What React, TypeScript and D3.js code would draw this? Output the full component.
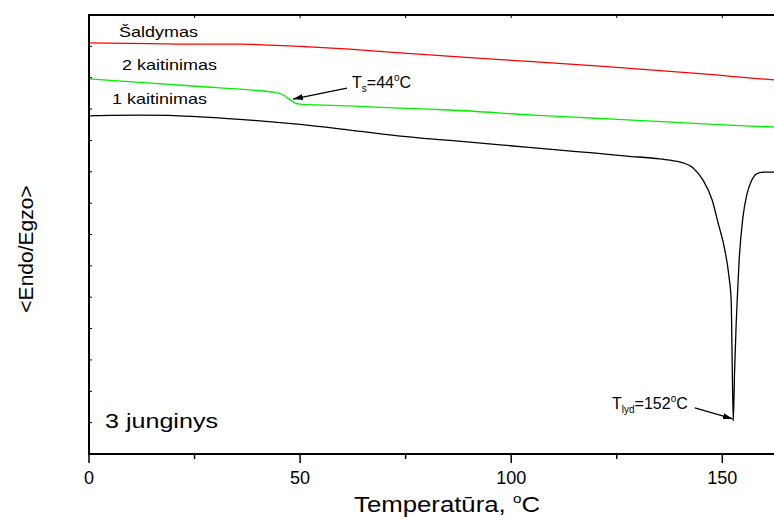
import * as d3 from 'd3';

// Temperature (°C) vs heat flow (arbitrary units)
const saldymas: [number, number][] = [
  [0, 13.11], [14.5, 13.09], [26.3, 13.07], [35.8, 13.07], [42.9, 13.04], [50, 13.0],
  [61.8, 12.91], [73.7, 12.79], [97.4, 12.58], [121.0, 12.37], [144.7, 12.13],
  [162.3, 11.93], [170, 11.86],
];

const kaitinimas2: [number, number][] = [
  [0, 11.96], [14.5, 11.83], [26.3, 11.72], [38.1, 11.61], [44.1, 11.53], [46.0, 11.45],
  [47.6, 11.30], [49.0, 11.18], [50.0, 11.16], [61.8, 11.10], [73.7, 11.03], [85.5, 10.97],
  [105.2, 10.81], [121.0, 10.70], [136.9, 10.59], [162.3, 10.43], [170, 10.40],
];

const kaitinimas1: [number, number][] = [
  [0, 10.78], [5, 10.80], [12, 10.81], [19, 10.80], [26.3, 10.75], [38.1, 10.65],
  [50, 10.51], [61.8, 10.33], [73.7, 10.14], [85.5, 10.0], [97.4, 9.86], [111.6, 9.69],
  [119.4, 9.60], [127.4, 9.50], [135.2, 9.41], [140.0, 9.31], [143.1, 9.12], [145.4, 8.74],
  [147.6, 8.10], [149.0, 7.37], [150.6, 6.51], [151.6, 5.64], [152.1, 4.91], [152.3, 3.3],
  [152.6, 1.05], [152.9, 2.6], [153.3, 4.2], [153.7, 5.4], [154.0, 6.19], [154.9, 7.56],
  [155.9, 8.32], [157.0, 8.74], [158.5, 8.96], [160.1, 8.99], [162.3, 8.99], [170, 8.99],
];

const xMajorTicks = [0, 50, 100, 150];
const xMinorTicks = [25, 75, 125, 175];

// annotation arrows: [tail, tip]
const tsArrow: [number, number][] = [[61.1, 11.67], [48.3, 11.32]];
const tlydArrow: [number, number][] = [[143.5, 1.47], [152.5, 1.12]];

export default function App() {
  const width = 774;
  const height = 517;
  const font = '"Liberation Sans", Arial, sans-serif';

  const x = d3.scaleLinear().domain([0, 175]).range([89, 89 + 175 * 4.222]);
  const y = d3.scaleLinear().domain([0, 14]).range([454, 15]);

  const line = d3
    .line<[number, number]>()
    .x((d) => x(d[0]))
    .y((d) => y(d[1]))
    .curve(d3.curveMonotoneX);

  const arrowLine = d3
    .line<[number, number]>()
    .x((d) => x(d[0]))
    .y((d) => y(d[1]));

  const x0 = x(0);
  const yBottom = y(0);
  const yTop = y(14);

  return (
    <svg
      width={width}
      height={height}
      style={{ position: 'absolute', left: 0, top: 0, background: '#fff' }}
      fontFamily={font}
    >
      <defs>
        <marker id="arrow" viewBox="0 0 10 6" refX="10" refY="3" markerWidth="10" markerHeight="6"
          markerUnits="userSpaceOnUse" orient="auto">
          <path d="M0,0 L10,3 L0,6 Z" fill="#000" />
        </marker>
      </defs>

      {/* curves */}
      <path d={line(saldymas) ?? ''} fill="none" stroke="#ff0000" strokeWidth={1.3} />
      <path d={line(kaitinimas2) ?? ''} fill="none" stroke="#00ee00" strokeWidth={1.3} />
      <path d={line(kaitinimas1) ?? ''} fill="none" stroke="#000" strokeWidth={1.3} />

      {/* frame */}
      <line x1={x0} x2={width} y1={yTop} y2={yTop} stroke="#000" strokeWidth={2} />
      <line x1={x0} x2={width} y1={yBottom} y2={yBottom} stroke="#000" strokeWidth={2} />
      <line x1={x0} x2={x0} y1={yTop - 1} y2={yBottom + 1} stroke="#000" strokeWidth={2} />

      {/* left ticks (inward) */}
      {y.ticks(14).map((t) => (
        <line key={'yl' + t} x1={x0} x2={x0 + 3} y1={y(t)} y2={y(t)} stroke="#000" strokeWidth={1} />
      ))}

      {/* top ticks (inward) */}
      {[...xMajorTicks, ...xMinorTicks].map((t) => (
        <line key={'xt' + t} x1={x(t)} x2={x(t)} y1={yTop} y2={yTop + 3} stroke="#000" strokeWidth={1} />
      ))}

      {/* bottom ticks */}
      {xMajorTicks.map((t) => (
        <g key={'xb' + t}>
          <line x1={x(t)} x2={x(t)} y1={yBottom} y2={yBottom + 9} stroke="#000" strokeWidth={1.5} />
          <text x={x(t)} y={yBottom + 30} fontSize={18} textAnchor="middle" fill="#000">
            {t}
          </text>
        </g>
      ))}
      {xMinorTicks.map((t) => (
        <line key={'xm' + t} x1={x(t)} x2={x(t)} y1={yBottom} y2={yBottom + 5} stroke="#000" strokeWidth={1.5} />
      ))}

      {/* axis titles */}
      <text x={354} y={512} fontSize={22} fill="#000" textLength={186} lengthAdjust="spacingAndGlyphs">
        Temperatūra, <tspan dy={-9} fontSize={13}>o</tspan><tspan dy={9}>C</tspan>
      </text>
      <text transform="translate(33,249) rotate(-90)" fontSize={21} textAnchor="middle" fill="#000">
        {'<Endo/Egzo>'}
      </text>

      {/* curve labels */}
      <text x={119} y={37} fontSize={15} textLength={79} lengthAdjust="spacingAndGlyphs" fill="#000">Šaldymas</text>
      <text x={122} y={70} fontSize={15} textLength={95} lengthAdjust="spacingAndGlyphs" fill="#000">2 kaitinimas</text>
      <text x={112} y={104} fontSize={15} textLength={95} lengthAdjust="spacingAndGlyphs" fill="#000">1 kaitinimas</text>
      <text x={105} y={428} fontSize={21} textLength={113} lengthAdjust="spacingAndGlyphs" fill="#000">3 junginys</text>

      {/* annotations */}
      <path d={arrowLine(tsArrow) ?? ''} stroke="#000" strokeWidth={1.2} fill="none" markerEnd="url(#arrow)" />
      <text x={352} y={88} fontSize={16} fill="#000">
        T<tspan dy={4} fontSize={10}>s</tspan><tspan dy={-4}>=44</tspan>
        <tspan dy={-7} fontSize={10}>o</tspan><tspan dy={7}>C</tspan>
      </text>

      <path d={arrowLine(tlydArrow) ?? ''} stroke="#000" strokeWidth={1.2} fill="none" markerEnd="url(#arrow)" />
      <text x={612} y={409} fontSize={16} fill="#000">
        T<tspan dy={4} fontSize={10}>lyd</tspan><tspan dy={-4}>=152</tspan>
        <tspan dy={-7} fontSize={10}>o</tspan><tspan dy={7}>C</tspan>
      </text>
    </svg>
  );
}
